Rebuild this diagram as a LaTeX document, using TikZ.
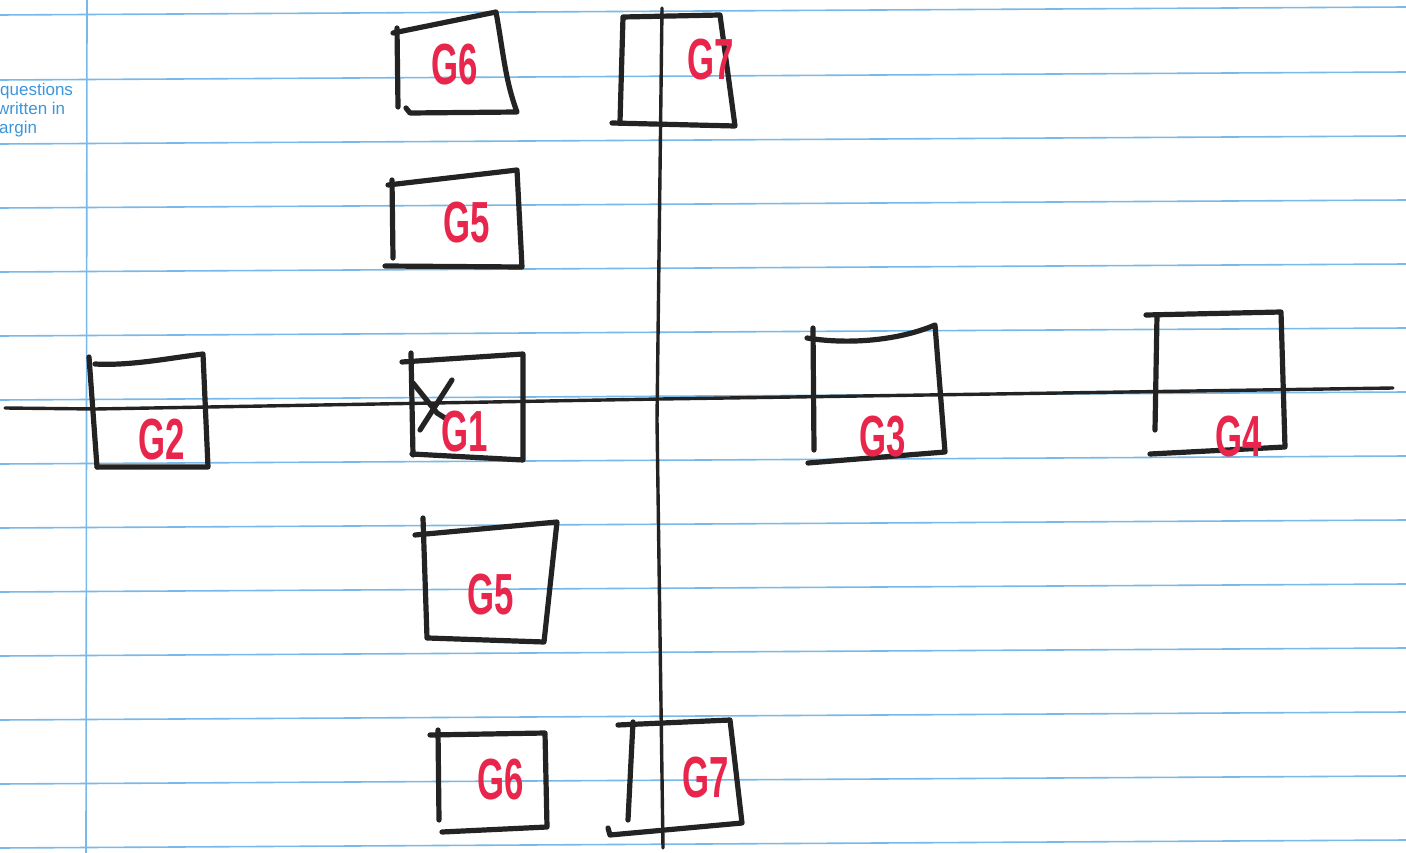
\documentclass[tikz,border=0pt]{standalone}
\usepackage{fontspec}
\setmainfont{Liberation Sans}
\newfontfamily\penfont[FakeStretch=0.6]{Liberation Sans}
\definecolor{penred}{RGB}{232,38,75}
\definecolor{rulecol}{RGB}{120,185,235}
\definecolor{notecol}{RGB}{60,150,220}
\definecolor{ink}{RGB}{35,35,35}
\begin{document}
\begin{tikzpicture}[x=1pt, y=-1pt,
            ruling/.style={draw=rulecol, line width=1.6pt},
            axis/.style={draw=ink, line width=3.4pt, line cap=round, line join=round},
            box/.style={draw=ink, line width=5.2pt, line cap=round, line join=round},
            glabel/.style={text=penred, font={\penfont\bfseries\fontsize{58}{60}\selectfont}, inner sep=0pt},
            margin/.style={text=notecol, font={\fontsize{17}{19}\selectfont}, anchor=base west, inner sep=0pt}
            ]
            \fill[white] (0,0) rectangle (1406,853);
            \useasboundingbox (0,0) rectangle (1406,853);

            \foreach \ly in {15,80,144,208,272,336,400,464,528,592,656,720,784,848}
              \draw[ruling] (0,\ly) -- (1406,\ly-8);
            \draw[ruling] (87,0) -- (86,853);

            \node[margin] (q1) at (0,96) {questions};
            \node[margin] (q2) at (-3,115) {written in};
            \node[margin] (q3) at (-1,134) {argin};

            \coordinate (hl) at (5,408);
            \coordinate (hr) at (1393,388);
            \coordinate (vt) at (662,8);
            \coordinate (vb) at (663,848);
            \draw[axis] (hl) -- (95,409) -- (660,399) -- (hr);
            \draw[axis] (vt) -- (657,420) -- (vb);

            \draw[box] (393,33) -- (496,12) .. controls (503,50) and (505,80) .. (517,112) -- (410,113) -- (406,108);
            \draw[box] (397,28) -- (398,107);
            \node[glabel] (g6top) at (455,65) {G6};

            \draw[box] (612,123) -- (735,126) -- (720,15) -- (623,17) -- (620,122);
            \node[glabel] (g7top) at (711,60) {G7};

            \draw[box] (388,185) -- (517,170) -- (522,267) -- (385,266);
            \draw[box] (392,180) -- (393,258);
            \node[glabel] (g5top) at (467,223) {G5};

            \draw[box] (95,364) .. controls (130,366) and (170,358) .. (203,354) -- (208,467) -- (97,467);
            \draw[box] (89,357) -- (97,467);
            \node[glabel] (g2) at (162,440) {G2};

            \draw[box] (402,362) -- (523,354) -- (523,460) -- (412,454);
            \draw[box] (411,353) -- (413,455);
            \draw[box] (420,430) -- (452,380);
            \draw[box] (413,383) -- (437,413) -- (445,418);
            \node[glabel] (g1) at (465,432) {G1};

            \draw[box] (807,338) .. controls (850,345) and (900,340) .. (935,325) -- (945,452) -- (808,463);
            \draw[box] (813,328) -- (814,450);
            \node[glabel] (g3) at (883,437) {G3};

            \draw[box] (1146,315) -- (1281,312) -- (1285,447) -- (1150,454);
            \draw[box] (1157,315) -- (1155,430);
            \node[glabel] (g4) at (1239,437) {G4};

            \draw[box] (415,535) -- (557,522) -- (544,642) -- (428,638);
            \draw[box] (423,518) -- (427,638);
            \node[glabel] (g5bot) at (491,595) {G5};

            \draw[box] (430,735) -- (545,733) -- (547,827) -- (442,832);
            \draw[box] (438,730) -- (439,820);
            \node[glabel] (g6bot) at (501,780) {G6};

            \draw[box] (618,725) -- (730,720) -- (742,823) -- (610,835) -- (608,828);
            \draw[box] (633,722) -- (628,820);
            \node[glabel] (g7bot) at (706,778) {G7};
\end{tikzpicture}
\end{document}
